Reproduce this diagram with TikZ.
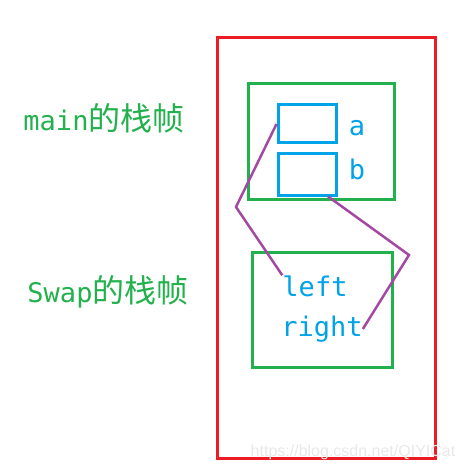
\documentclass[tikz,border=0pt]{standalone}
\usepackage{fontspec}
\usepackage{xcolor}
\usepackage{tikz}
\usetikzlibrary{positioning}
\newfontfamily\monofont{DejaVu Sans Mono}
\newfontfamily\cjkfont{Noto Sans CJK SC}
\newfontfamily\markfont{Liberation Sans}
\definecolor{FrameRed}{HTML}{ED1C24}
\definecolor{FrameGreen}{HTML}{22B14C}
\definecolor{SlotBlue}{HTML}{00A2E8}
\definecolor{LinkPurple}{HTML}{A349A4}
\tikzset{
  figure/.style={x=1pt,y=-1pt},
  stackbox/.style={draw=FrameRed,line width=3pt,minimum width=218pt,minimum height=420pt},
  framebox/.style={draw=FrameGreen,line width=3pt,minimum height=115pt},
  slot/.style={draw=SlotBlue,line width=3pt,minimum width=58pt},
  vartext/.style={text=SlotBlue,inner sep=0pt,font=\monofont\fontsize{27}{30}\selectfont},
  framelabel/.style={text=FrameGreen,inner sep=0pt},
  link/.style={draw=LinkPurple,line width=2.5pt},
}
\newcommand{\framename}[1]{{\monofont\fontsize{27}{30}\selectfont #1}{\cjkfont\fontsize{32}{34}\selectfont 的栈帧}}

\begin{document}
\begin{tikzpicture}[figure]
  \useasboundingbox (0,0) rectangle (464,470);

  \node[stackbox] (stack) at (326,248) {};
  \node[framebox,minimum width=146pt] (mainframe) at (321,141.5) {};
  \node[framebox,minimum width=140pt] (swapframe) at (322,309.5) {};

  \node[slot,minimum height=38pt] (slotA) at (307,124) {};
  \node[slot,minimum height=41pt] (slotB) at (307,174.5) {};
  \node[vartext] (nameA) at (357,128) {a};
  \node[vartext] (nameB) at (357,169) {b};

  \node[vartext] (left) at (315,286) {left};
  \node[vartext] (right) at (322,329) {right};

  \node[framelabel] (mainlabel) at (104,118) {\framename{main}};
  \node[framelabel] (swaplabel) at (108,292) {\framename{Swap}};

  % pointers from the parameters back to main's variables
  \coordinate (bendA) at (236,207);
  \coordinate (bendB) at (409,255);
  \draw[link] (slotA.west) -- (bendA) -- (left.north west);
  \draw[link] ([xshift=21pt]slotB.south) -- (bendB) -- (right.east);

  \node[text=gray!18,font=\markfont\fontsize{16}{18}\selectfont] (mark) at (353,452)
    {https://blog.csdn.net/QIYICat};
\end{tikzpicture}
\end{document}
